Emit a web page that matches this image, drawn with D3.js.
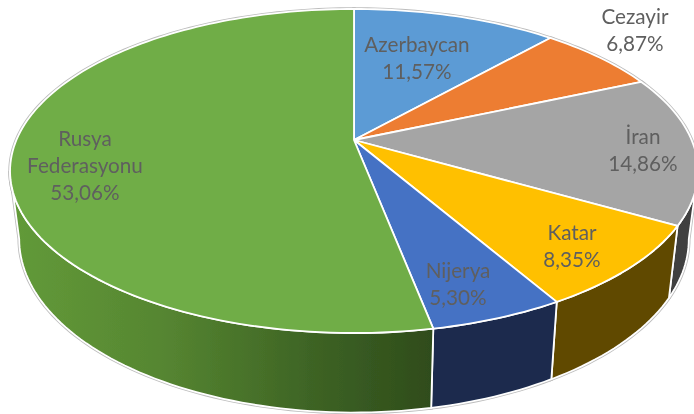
<!DOCTYPE html>
<html>
<head>
<meta charset="utf-8">
<style>
  html, body { margin: 0; padding: 0; background: #fff; }
  svg { display: block; }
  text { font-family: Lato, "Open Sans", sans-serif; font-size: 20.7px; fill: #5f5f5f; text-anchor: middle; }
</style>
</head>
<body>
<div id="chart"></div>
<script src="https://cdn.jsdelivr.net/npm/d3@7"></script>
<script>
const categories = ['Azerbaycan', 'Cezayir', 'İran', 'Katar', 'Nijerya', 'Rusya Federasyonu'];
const values = [11.57, 6.87, 14.86, 8.35, 5.30, 53.06];

const topColors = ['#5b9bd5', '#ed7d31', '#a5a5a5', '#ffc000', '#4472c4', '#70ad47'];
const sideColors = ['#2f5c85', '#8a4a1c', '#3f3f3f', '#614900', '#1a2b4e', 'url(#sideGreen)'];

// where each label block is centred, and its first baseline
const labelX = [417, 635, 643, 572, 458, 85];
const labelY = [52, 24, 144, 240, 278, 146];
const lineHeight = 27;

const width = 694, height = 414;
const svg = d3.select('#chart').append('svg')
  .attr('width', width)
  .attr('height', height);

const defs = svg.append('defs');
const grad = defs.append('linearGradient')
  .attr('id', 'sideGreen')
  .attr('gradientUnits', 'userSpaceOnUse')
  .attr('x1', 15).attr('x2', 432).attr('y1', 0).attr('y2', 0);
grad.append('stop').attr('offset', '0').attr('stop-color', '#629a39');
grad.append('stop').attr('offset', '0.35').attr('stop-color', '#568631');
grad.append('stop').attr('offset', '0.75').attr('stop-color', '#3b6023');
grad.append('stop').attr('offset', '1').attr('stop-color', '#2f4c1b');

defs.append('filter')
  .attr('id', 'soft')
  .append('feGaussianBlur').attr('stdDeviation', 0.45);
defs.append('filter')
  .attr('id', 'softText')
  .append('feGaussianBlur').attr('stdDeviation', 0.35);

// the disc is seen in perspective: the apex is not the middle of the ellipse
const k = 0.1913;
function topRim(t) {
  const u = Math.sin(t), v = Math.cos(t);
  return [354 + 337.6 * u / (1 + k * v), 140 - 156.1 * v / (1 + k * v)];
}
function bottomRim(t) {
  const u = Math.sin(t), v = Math.cos(t);
  return [354 + 328.6 * u / (1 + k * v), 206 - 1.07 * 156.1 * v / (1 + k * v)];
}

function arcPoints(rim, a0, a1) {
  const n = Math.max(2, Math.ceil((a1 - a0) * 40));
  return d3.range(n + 1).map(i => rim(a0 + (a1 - a0) * i / n));
}

const pie = d3.pie().sort(null).value(d => d);
const arcs = pie(values);
const line = d3.line();
const centre = [354, 140];

// walls only show between the two silhouette angles
const wallFrom = 101 * Math.PI / 180, wallTo = 259 * Math.PI / 180;

function wallPath(d) {
  const a0 = Math.max(d.startAngle, wallFrom), a1 = Math.min(d.endAngle, wallTo);
  if (a1 <= a0) return null;
  const upper = arcPoints(topRim, a0, a1);
  const lower = arcPoints(bottomRim, a0, a1).reverse();
  return line(upper.concat(lower)) + 'Z';
}
function facePath(d) {
  return line([centre].concat(arcPoints(topRim, d.startAngle, d.endAngle))) + 'Z';
}

const g = svg.append('g').attr('filter', 'url(#soft)');

// grey halo round the whole body, then the walls and faces on top
g.selectAll('path.halo')
  .data(arcs)
  .enter()
  .append('path')
  .attr('d', wallPath)
  .attr('fill', 'none')
  .attr('stroke', '#bdbdbd')
  .attr('stroke-width', 3.5);

g.selectAll('path.halotop')
  .data(arcs)
  .enter()
  .append('path')
  .attr('d', facePath)
  .attr('fill', 'none')
  .attr('stroke', '#bdbdbd')
  .attr('stroke-width', 3.5);

g.selectAll('path.wall')
  .data(arcs)
  .enter()
  .append('path')
  .attr('class', 'wall')
  .attr('d', wallPath)
  .attr('fill', (d, i) => sideColors[i])
  .attr('stroke', '#fff')
  .attr('stroke-width', 1.8)
  .attr('stroke-linejoin', 'round');

g.selectAll('path.face')
  .data(arcs)
  .enter()
  .append('path')
  .attr('class', 'face')
  .attr('d', facePath)
  .attr('fill', (d, i) => topColors[i])
  .attr('stroke', '#fff')
  .attr('stroke-width', 1.8)
  .attr('stroke-linejoin', 'round');

const fmt = d3.formatLocale({ decimal: ',', thousands: '.', grouping: [3], currency: ['', ''] }).format('.2f');

const labels = svg.selectAll('g.label')
  .data(categories)
  .enter()
  .append('g')
  .attr('class', 'label')
  .attr('filter', 'url(#softText)')
  .attr('transform', (d, i) => `translate(${labelX[i]},${labelY[i]})`);

labels.each(function (d, i) {
  const rows = d.split(' ').concat(fmt(values[i]) + '%');
  d3.select(this).selectAll('text')
    .data(rows)
    .enter()
    .append('text')
    .attr('y', (r, j) => j * lineHeight)
    .text(r => r);
});
</script>
</body>
</html>
